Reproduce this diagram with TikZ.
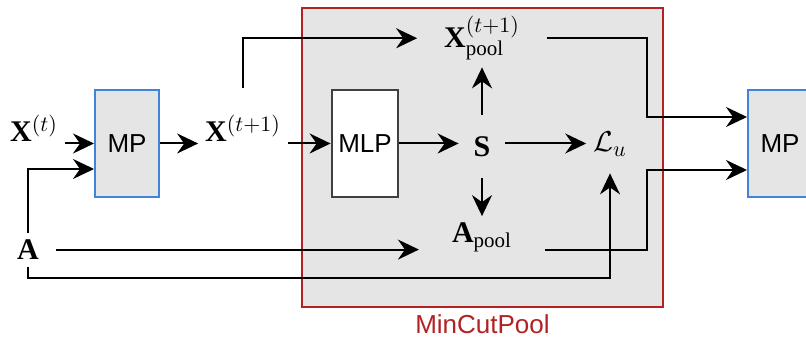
\documentclass[tikz,border=0pt]{standalone}
\usepackage{fontspec}
\setmainfont{Liberation Serif}
\setsansfont{Liberation Sans}
\usetikzlibrary{positioning,arrows.meta,calc}
\definecolor{PoolRed}{RGB}{178,34,34}
\definecolor{PoolGray}{RGB}{229,229,229}
\definecolor{MPBlue}{RGB}{64,132,218}
\begin{document}
\begin{tikzpicture}[x=0.5pt, y=-0.5pt,
    every node/.style={font=\fontsize{15}{18}\selectfont},
    box/.style={draw, minimum width=32pt, minimum height=53.5pt, line width=1pt, font=\sffamily\fontsize{13}{15}\selectfont},
    mpbox/.style={box, fill=PoolGray, draw=MPBlue},
    mlpbox/.style={box, fill=white, draw=black!75},
    pool/.style={draw=PoolRed, fill=PoolGray, line width=1pt, minimum width=180.5pt, minimum height=149.5pt},
    arr/.style={-{Stealth[length=10.5pt,width=10pt,inset=3.5pt]}, line width=1pt}
  ]
  \clip (0,0) rectangle (806,340);
  \fill[white] (0,0) rectangle (806,340);
  \node[pool] (pool) at (482.5,157.5) {};
  \node[below=0pt of pool, text=PoolRed, font=\sffamily\fontsize{13}{15}\selectfont] (poolname) {MinCutPool};
  % inputs and boxes
  \node[anchor=base] (xt) at (34,142) {$\mathbf{X}^{(t)}$};
  \node[anchor=base] (a) at (28,259.5) {$\mathbf{A}$};
  \node[mpbox] (mp1) at (127,143.5) {MP};
  \node[anchor=base] (xt1) at (243,142) {$\mathbf{X}^{(t+1)}$};
  \node[mlpbox] (mlp) at (365,143.5) {MLP};
  \node[minimum width=23pt, minimum height=31pt] (s) at (482,146.5) {$\mathbf{S}$};
  \node[anchor=base] (xpool) at (482,48) {$\mathbf{X}_{\mathrm{pool}}^{(t+1)}$};
  \node[anchor=base] (apool) at (482,243) {$\mathbf{A}_{\mathrm{pool}}$};
  \node[anchor=base] (lu) at (610,152) {$\mathcal{L}_u$};
  \node[mpbox] (mp2) at (780,143.5) {MP};
  \coordinate (jx) at (647,117);
  \coordinate (ja) at (647,170);
  % connectors
  \draw[arr] (xt.east |- mp1.west) -- (mp1.west);
  \draw[arr] (a.north) |- ($(mp1.west)+(0,25.5)$);
  \draw[arr] (mp1.east) -- (xt1.west |- mp1.east);
  \draw[arr, shorten <=10pt, shorten >=10pt] (xt1.north) |- (xpool.west);
  \draw[arr] (xt1.east |- mlp.west) -- (mlp.west);
  \draw[arr] (mlp.east) -- (mlp.east -| s.west);
  \draw[arr] (s.east |- mlp.east) -- (lu.west |- mlp.east);
  \draw[arr] (s.north) -- (s.north |- xpool.south);
  \draw[arr] (s.south) -- (s.south |- apool.north);
  \draw[arr, shorten <=5pt, shorten >=13pt] (a.east) -- (a.east -| apool.west);
  \draw[arr, shorten >=5pt] (a.south) -- ++(0,11) -| (lu.south);
  \draw[arr, shorten <=10pt] (xpool.east) -| (jx) -- (jx -| mp2.west);
  \draw[arr, shorten <=13pt] (apool.east |- a.east) -| (ja) -- (ja -| mp2.west);
\end{tikzpicture}
\end{document}
